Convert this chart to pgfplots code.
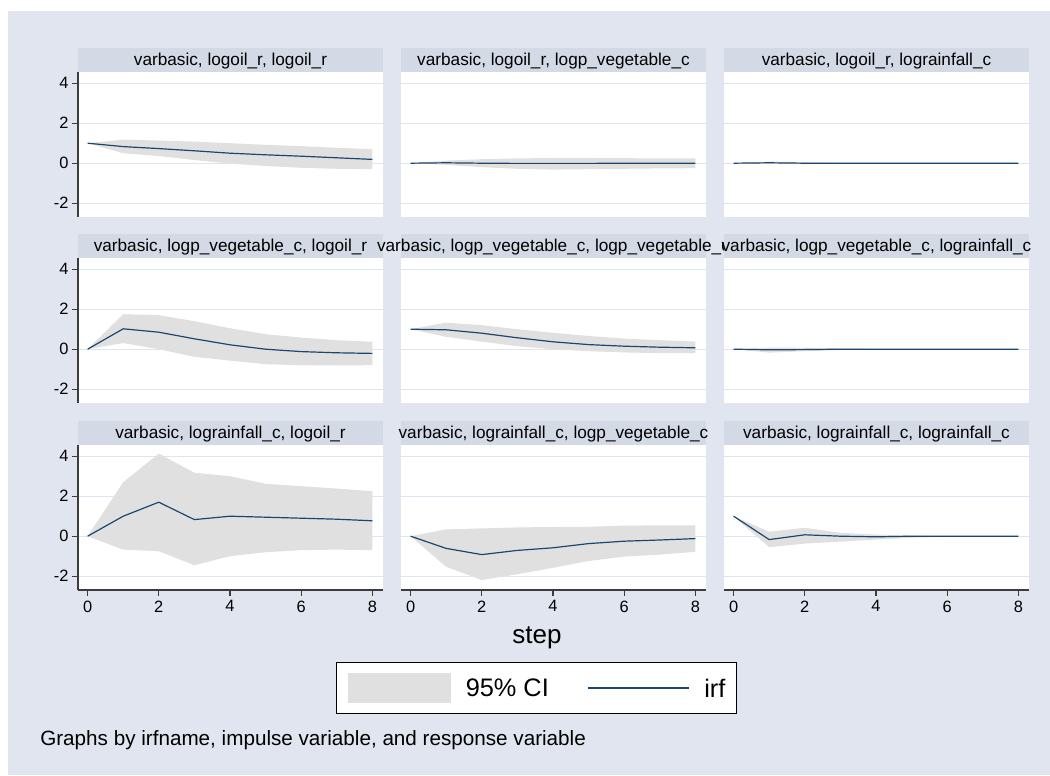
\documentclass[border=0pt]{standalone}
\usepackage{fontspec}
\setmainfont{Liberation Sans}
\usepackage{pgfplots}
\usepackage{pgfplotstable}
\pgfplotsset{compat=1.18}
\usepgfplotslibrary{fillbetween}

\definecolor{bgcol}{RGB}{224,229,240}
\definecolor{stripcol}{RGB}{211,217,229}
\definecolor{gridcol}{RGB}{222,228,240}
\definecolor{cigray}{RGB}{224,224,224}
\definecolor{irfnavy}{RGB}{26,71,111}
\definecolor{axiscol}{RGB}{60,60,60}

\newcommand\stripfont{\fontsize{12.9}{15}\selectfont}
\newcommand\ticklabelfont{\fontsize{12.3}{14}\selectfont}
\newcommand\stepfont{\fontsize{19.5}{22}\selectfont}
\newcommand\legendfont{\fontsize{19}{22}\selectfont}
\newcommand\notefont{\fontsize{15.5}{18}\selectfont}

% impulse -> response: step, irf, lower and upper 95% bounds
\pgfplotstableread{
step irf lo hi
0 1.00 1.00 1.00
1 0.83 0.50 1.18
2 0.73 0.36 1.13
3 0.62 0.16 1.08
4 0.50 -0.02 1.00
5 0.42 -0.14 0.92
6 0.35 -0.23 0.85
7 0.27 -0.28 0.77
8 0.19 -0.30 0.70
}\tOilOil
\pgfplotstableread{
step irf lo hi
0 0.00 0.00 0.00
1 0.02 -0.08 0.13
2 0.00 -0.20 0.20
3 -0.01 -0.28 0.24
4 -0.01 -0.32 0.26
5 -0.01 -0.30 0.26
6 0.00 -0.28 0.25
7 0.00 -0.26 0.24
8 0.00 -0.25 0.24
}\tOilVeg
\pgfplotstableread{
step irf lo hi
0 0.00 0.00 0.00
1 0.02 -0.03 0.08
2 0.00 -0.05 0.05
3 0.00 -0.02 0.02
4 0.00 -0.01 0.01
5 0.00 -0.01 0.01
6 0.00 -0.01 0.01
7 0.00 -0.01 0.01
8 0.00 -0.01 0.01
}\tOilRain
\pgfplotstableread{
step irf lo hi
0 0.00 0.00 0.00
1 1.02 0.31 1.75
2 0.85 0.00 1.70
3 0.52 -0.38 1.40
4 0.22 -0.57 1.05
5 0.00 -0.75 0.75
6 -0.12 -0.80 0.58
7 -0.18 -0.81 0.45
8 -0.21 -0.80 0.37
}\tVegOil
\pgfplotstableread{
step irf lo hi
0 1.00 1.00 1.00
1 0.97 0.62 1.33
2 0.80 0.38 1.20
3 0.57 0.15 1.00
4 0.37 0.00 0.82
5 0.23 -0.10 0.66
6 0.15 -0.16 0.53
7 0.10 -0.20 0.45
8 0.07 -0.20 0.38
}\tVegVeg
\pgfplotstableread{
step irf lo hi
0 0.00 0.00 0.00
1 -0.03 -0.17 0.08
2 -0.02 -0.10 0.07
3 0.00 -0.04 0.03
4 0.00 -0.02 0.02
5 0.00 -0.01 0.01
6 0.00 -0.01 0.01
7 0.00 -0.01 0.01
8 0.00 -0.01 0.01
}\tVegRain
\pgfplotstableread{
step irf lo hi
0 0.00 0.00 0.00
1 1.00 -0.67 2.70
2 1.70 -0.75 4.13
3 0.83 -1.45 3.17
4 1.00 -1.00 3.00
5 0.95 -0.80 2.62
6 0.90 -0.70 2.50
7 0.85 -0.67 2.38
8 0.77 -0.70 2.25
}\tRainOil
\pgfplotstableread{
step irf lo hi
0 0.00 0.00 0.00
1 -0.61 -1.53 0.34
2 -0.92 -2.19 0.39
3 -0.71 -1.90 0.44
4 -0.58 -1.58 0.46
5 -0.37 -1.24 0.47
6 -0.25 -1.02 0.53
7 -0.19 -0.92 0.54
8 -0.12 -0.78 0.54
}\tRainVeg
\pgfplotstableread{
step irf lo hi
0 1.00 1.00 1.00
1 -0.17 -0.55 0.22
2 0.07 -0.37 0.42
3 0.00 -0.27 0.17
4 -0.03 -0.17 0.08
5 0.00 -0.07 0.03
6 0.00 -0.03 0.01
7 0.00 -0.02 0.01
8 0.00 -0.01 0.01
}\tRainRain

\pgfplotsset{
  panel/.style={
    scale only axis, width=228.75pt, height=108.75pt, anchor=south west,
    xmin=-0.27, xmax=8.3, ymin=-2.69, ymax=4.56,
    axis x line*=bottom, axis y line*=left,
    axis background/.style={fill=white},
    xtick={0,2,4,6,8}, ytick={-2,0,2,4},
    xticklabels={}, yticklabels={},
    ymajorgrids=true, xmajorgrids=false,
    grid style={gridcol, line width=1pt},
    x axis line style={draw=none}, y axis line style={draw=none},
    xtick style={draw=none}, ytick style={draw=none},
    tick align=outside, major tick length=4.5pt,
    tick label style={font=\ticklabelfont, text=black},
    yticklabel style={inner xsep=2.5pt},
    /pgf/number format/assume math mode=true,
  },
  ylab/.style={
    y axis line style={draw=axiscol, line width=0.8pt},
    ytick style={draw=axiscol, line width=0.8pt},
    yticklabels={-2,0,2,4},
  },
  xlab/.style={
    x axis line style={draw=axiscol, line width=0.8pt},
    xtick style={draw=axiscol, line width=0.8pt},
    xticklabels={0,2,4,6,8},
  },
  strip/.style={
    extra description/.append code={
      \fill[stripcol] (axis description cs:0,1) rectangle ([yshift=18pt]axis description cs:1,1);
      \node[font=\stripfont, anchor=base, inner sep=0pt, text=black]
        at ([yshift=4.9pt]axis description cs:0.5,1) {#1};
    },
  },
}

% #1 left (px), #2 bottom (px), #3 table, #4 strip text, #5 extra axis options
\newcommand\panel[5]{%
  \begin{axis}[panel, at={({#1*0.75pt},{#2*0.75pt})}, strip={#4}, #5]
    \addplot[name path=hi, draw=none, forget plot] table[x=step, y=hi] {#3};
    \addplot[name path=lo, draw=none, forget plot] table[x=step, y=lo] {#3};
    \addplot[cigray, draw=none, forget plot] fill between[of=hi and lo];
    \addplot[irfnavy, line width=0.9pt, forget plot] table[x=step, y=irf] {#3};
  \end{axis}%
}

% graph region colour for the whole page
\pagecolor{bgcol}

\begin{document}
\begin{tikzpicture}
  % white outer margin (top and left)
  \fill[white] (0pt,573pt) rectangle (787.5pt,581.25pt);
  \fill[white] (0pt,0pt) rectangle (6pt,581.25pt);

  \panel{78}{558}{\tOilOil}{varbasic, logoil\_r, logoil\_r}{ylab}
  \panel{401}{558}{\tOilVeg}{varbasic, logoil\_r, logp\_vegetable\_c}{}
  \panel{724}{558}{\tOilRain}{varbasic, logoil\_r, lograinfall\_c}{}

  \panel{78}{372}{\tVegOil}{varbasic, logp\_vegetable\_c, logoil\_r}{ylab}
  \panel{401}{372}{\tVegVeg}{varbasic, logp\_vegetable\_c, logp\_vegetable\_c}{}
  \panel{724}{372}{\tVegRain}{varbasic, logp\_vegetable\_c, lograinfall\_c}{}

  \panel{78}{185}{\tRainOil}{varbasic, lograinfall\_c, logoil\_r}{ylab, xlab}
  \panel{401}{185}{\tRainVeg}{varbasic, lograinfall\_c, logp\_vegetable\_c}{xlab}
  \panel{724}{185}{\tRainRain}{varbasic, lograinfall\_c, lograinfall\_c}{xlab}

  % overall x title, legend and note
  \begin{axis}[
    at={(0pt,0pt)}, anchor=south west, scale only axis,
    width=787.5pt, height=581.25pt,
    xmin=0, xmax=1050, ymin=0, ymax=775,
    hide axis, clip=false,
    legend columns=2,
    legend style={
      at={(0.51095,0.11226)}, anchor=center,
      draw=black, line width=0.9pt, fill=white,
      inner xsep=8.5pt, inner ysep=7.9pt,
      font=\legendfont,
      nodes={inner sep=0pt, text depth=0pt},
      /tikz/every odd column/.append style={column sep=11.25pt},
      /tikz/every even column/.append style={column sep=28.5pt},
    },
  ]
    \addlegendimage{legend image code/.code={
      \fill[cigray] (0pt,-10.875pt) rectangle (76.5pt,10.875pt);}}
    \addlegendentry{95\% CI}
    \addlegendimage{legend image code/.code={
      \draw[irfnavy, line width=1.1pt] (0pt,0pt) -- (75.75pt,0pt);}}
    \addlegendentry{irf}
    \node[font=\stepfont, anchor=base, inner sep=0pt] at (axis cs:537,131) {step};
    \node[font=\notefont, anchor=base west, inner sep=0pt] at (axis cs:40,30)
      {Graphs by irfname, impulse variable, and response variable};
  \end{axis}

  % page extent
  \pgfresetboundingbox
  \path[use as bounding box] (0pt,0pt) rectangle (787.5pt,581.25pt);
\end{tikzpicture}
\end{document}
